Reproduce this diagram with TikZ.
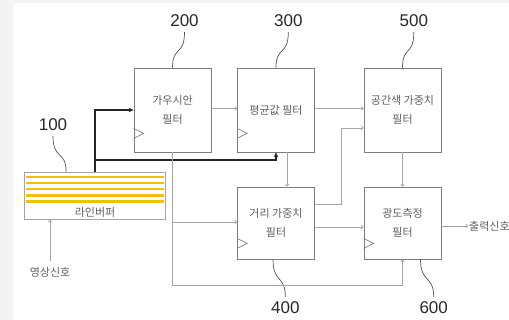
\documentclass[tikz,border=0pt]{standalone}
\usepackage{fontspec}
\setmainfont{Liberation Sans}
\newfontfamily\krfont{Noto Sans CJK KR}
\usetikzlibrary{arrows.meta,calc}
\definecolor{boxc}{RGB}{125,125,125}
\definecolor{linec}{RGB}{165,165,165}
\definecolor{txtc}{RGB}{95,95,95}
\definecolor{numc}{RGB}{40,40,40}
\definecolor{yel}{RGB}{245,190,10}
\definecolor{bgc}{RGB}{243,243,243}
\begin{document}
\begin{tikzpicture}[x=1pt,y=-1pt,
  blk/.style={draw=boxc, line width=0.8pt, minimum width=77pt, inner sep=0pt,
    align=center, text=txtc, font=\krfont\fontsize{11}{19}\selectfont},
  txt/.style={text=txtc, inner sep=1pt, font=\krfont\fontsize{11}{12}\selectfont},
  num/.style={text=numc, inner sep=1pt, font=\fontsize{17}{17}\selectfont},
  conn/.style={draw=linec, line width=0.7pt, -{To[length=2.6pt,width=4pt]}},
  bconn/.style={draw=black!85, line width=1.1pt, -{Stealth[length=5pt,width=4.5pt]}},
  lead/.style={draw=numc!80, line width=0.7pt},
  clk/.style={draw=boxc, line width=0.7pt}
]
\useasboundingbox (0,0) rectangle (509,320);
\fill[bgc] (0,0) rectangle (13,320);
\fill[bgc] (0,0) rectangle (509,3);

% boxes
\node[blk, minimum height=84pt] (b200) at (172.5,110) {가우시안\\필터};
\node[blk, minimum height=84pt] (b300) at (276,110) {평균값 필터};
\node[blk, minimum height=84pt] (b500) at (402.5,110) {공간색 가중치\\필터};
\node[blk, minimum height=72pt] (b400) at (276,223) {거리 가중치\\필터};
\node[blk, minimum height=72pt] (b600) at (402.5,223) {광도측정\\필터};

% clock triangles
\draw[clk] ($(b200.south west)+(0,-24)$) -- ++(10,5) -- ++(-10,5);
\draw[clk] ($(b300.south west)+(0,-24)$) -- ++(10,5) -- ++(-10,5);
\draw[clk] ($(b400.south west)+(0,-21)$) -- ++(10,5) -- ++(-10,5);
\draw[clk] ($(b600.south west)+(0,-21)$) -- ++(10,5) -- ++(-10,5);

% line buffer
\node[draw=linec, line width=0.7pt, minimum width=141pt, minimum height=47pt, inner sep=0pt] (buf) at (95,196) {};
\foreach \yy in {177,183,189,195.5,201.5}
  \draw[yel, line width=2.3pt] (26,\yy) -- (164,\yy);
\node[txt] (buftxt) at (95,212) {라인버퍼};

% labels
\node[num] (l100) at (53,125) {100};
\node[num] (l200) at (184.5,21) {200};
\node[num] (l300) at (288.3,21) {300};
\node[num] (l500) at (413.8,21) {500};
\node[num] (l400) at (285.3,308) {400};
\node[num] (l600) at (433.7,308) {600};

% leaders
\draw[lead] ([yshift=-4pt]l200.south) .. controls +(0,24) and +(0,-22) .. (b200.north);
\draw[lead] ([yshift=-4pt]l300.south) .. controls +(0,24) and +(0,-22) .. (b300.north);
\draw[lead] ([yshift=-4pt]l500.south) .. controls +(0,24) and +(0,-22) .. (b500.north);
\coordinate (bufleg) at ($(buf.north west)+(42,0)$);
\draw[lead] ([yshift=-4pt]l100.south) .. controls +(0,24) and +(0,-22) .. (bufleg);
\draw[lead] ([xshift=-3pt]b400.south) .. controls +(0,24) and +(0,-22) .. ([yshift=4pt]l400.north);
\draw[lead] ([xshift=18pt]b600.south) .. controls +(0,24) and +(0,-22) .. ([yshift=4pt]l600.north);

% black connectors
\draw[bconn] (buf.north) |- (b200.west);
\coordinate (j1) at (95,160);
\draw[bconn] (j1) -| (b300.south);

% gray connectors
\draw[conn] ([yshift=1.5pt]b200.east) -- ([yshift=1.5pt]b300.west);
\draw[conn] ([yshift=1.5pt]b300.east) -- ([yshift=1.5pt]b500.west);
\draw[conn] ([xshift=11pt]b300.south) -- ([xshift=11pt]b400.north);
\draw[conn] (b200.south) |- ([yshift=1pt]b400.west);
\coordinate (lowL) at (172.5,285);
\draw[conn] (b200.south) -- (lowL) -| (b600.south);
\coordinate (k1) at (341,128);
\draw[conn] ([yshift=19pt]b400.east) -| (k1) -- (k1 -| b500.west);
\draw[conn] ([yshift=-4pt]b400.east) -- ([yshift=-4pt]b600.west);
\draw[conn] (b500.south) -- (b600.north);
\node[txt, anchor=west] (out) at (468,226) {출력신호};
\draw[conn] ([yshift=-3pt]b600.east) -- (out.west);
\node[txt] (in) at (50,272) {영상신호};
\draw[conn] ([yshift=5pt]in.north) -- (in.north |- buf.south);
\end{tikzpicture}
\end{document}
